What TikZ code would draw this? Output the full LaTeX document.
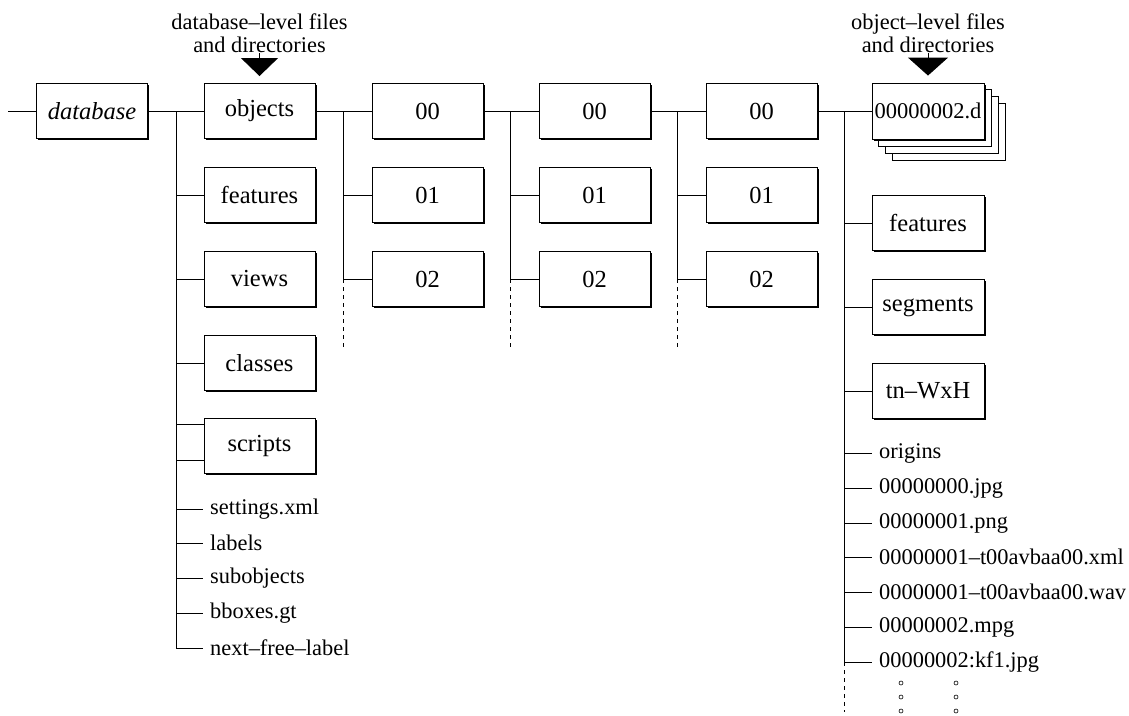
\documentclass[tikz,border=0pt]{standalone}
\usepackage{fontspec}
\setmainfont{Liberation Serif}
\usetikzlibrary{arrows.meta}
\usetikzlibrary{shadows,backgrounds}

\begin{document}
\begin{tikzpicture}[x=1pt,y=-1pt,
  dirbox/.style={draw=black, fill=white, line width=0.9pt, minimum width=111pt, minimum height=55pt, inner sep=0pt,
    font=\fontsize{24.5}{28}\selectfont,
    drop shadow={shadow xshift=1.6pt, shadow yshift=-1.6pt, fill=black, opacity=1}},
  filenode/.style={anchor=west, inner sep=0pt, inner xsep=7pt, font=\fontsize{22.4}{26}\selectfont},
  levellabel/.style={anchor=south, align=center, inner sep=0pt, font=\fontsize{22.4}{23}\selectfont},
  link/.style={line width=0.8pt},
  more/.style={link, dash pattern=on 4pt off 4pt},
  pointer/.style={line width=1pt, -{Triangle[width=#1,length=18pt]}}]

\useasboundingbox (0,0) rectangle (1129,715);

% database level
\coordinate (start) at (8,111);
\node[dirbox] (database) at (92,111) {\textit{database}};
\node[dirbox] (objects) at (259.5,111) {objects};
\node[dirbox] (features) at (259.5,195) {features};
\node[dirbox] (views) at (259.5,279) {views};
\node[dirbox] (classes) at (259.5,363) {classes};
\node[dirbox] (scripts) at (259.5,446) {scripts};
\node[filenode] (settings) at (203,509) {settings.xml};
\node[filenode] (labels) at (203,543) {labels};
\node[filenode] (subobjects) at (203,578) {subobjects};
\node[filenode] (bboxes) at (203,613) {bboxes.gt};
\node[filenode] (nextfree) at (203,648) {next--free--label};
\coordinate (bus0) at (176,111);
\draw[link] (start) -- (database.west) (database.east) -- (objects.west);
\draw[link] (bus0) |- (nextfree.west);
\foreach \n in {features,views,classes,settings,labels,subobjects,bboxes}
  \draw[link] (bus0 |- \n.west) -- (\n.west);
\draw[link] ([yshift=22pt]scripts.west) -- +(-28,0);
\draw[link] ([yshift=-14pt]scripts.west) -- +(-28,0);

\node[levellabel] (dblevel) at (259.5,53) {database--level files\\and directories};
\draw[pointer=37pt] (dblevel.south) -- ([yshift=7pt]objects.north);

% the three 00/01/02 levels
\foreach \c/\x in {l1/427.5, l2/594.5, l3/761.5} {
  \node[dirbox] (\c n00) at (\x,111) {00};
  \node[dirbox] (\c n01) at (\x,195) {01};
  \node[dirbox] (\c n02) at (\x,279) {02};
  \coordinate (\c bus) at (\x-84.5,111);
  \draw[link] (\c bus) |- (\c n02.west);
  \draw[link] (\c bus |- \c n01.west) -- (\c n01.west);
  \draw[more] (\c bus |- \c n02.west) -- +(0,69);
}
\draw[link] (objects.east) -- (l1n00.west);
\draw[link] (l1n00.east) -- (l2n00.west);
\draw[link] (l2n00.east) -- (l3n00.west);

% object level
\node[dirbox, minimum width=112pt, minimum height=56pt, font=\fontsize{22.5}{26}\selectfont] (stack) at (928,111) {00000002.d};
\begin{scope}[on background layer]
  \foreach \d in {21,14,7}
    \draw[line width=0.9pt, fill=white] ([shift={(\d,\d)}]stack.south west) rectangle ([shift={(\d,\d)}]stack.north east);
\end{scope}
\draw[link] (l3n00.east) -- (stack.west);

\node[levellabel] (objlevel) at (928,53) {object--level files\\and directories};
\draw[pointer=40pt] (objlevel.south) -- ([yshift=7pt]stack.north);

\node[dirbox, minimum width=112pt] (objfeatures) at (928,223) {features};
\node[dirbox, minimum width=112pt] (segments) at (928,307) {segments};
\node[dirbox, minimum width=112pt] (thumbs) at (928,391) {tn--WxH};
\node[filenode] (origins) at (872,453) {origins};
\node[filenode] (jpg) at (872,488) {00000000.jpg};
\node[filenode] (png) at (872,523) {00000001.png};
\node[filenode] (xml) at (872,557) {00000001--t00avbaa00.xml};
\node[filenode] (wav) at (872,592) {00000001--t00avbaa00.wav};
\node[filenode] (mpg) at (872,627) {00000002.mpg};
\node[filenode] (keyframe) at (872,662) {00000002:kf1.jpg};
\coordinate (bus4) at (844,111);
\draw[link] (bus4) -- (bus4 |- keyframe.west);
\foreach \n in {objfeatures,segments,thumbs,origins,jpg,png,xml,wav,mpg,keyframe}
  \draw[link] (bus4 |- \n.west) -- (\n.west);
\draw[more] (bus4 |- keyframe.west) -- +(0,50);
\foreach \px in {901,956}
  \foreach \py in {683,697,711}
    \draw[line width=0.6pt] (\px,\py) circle (2);
\end{tikzpicture}
\end{document}
